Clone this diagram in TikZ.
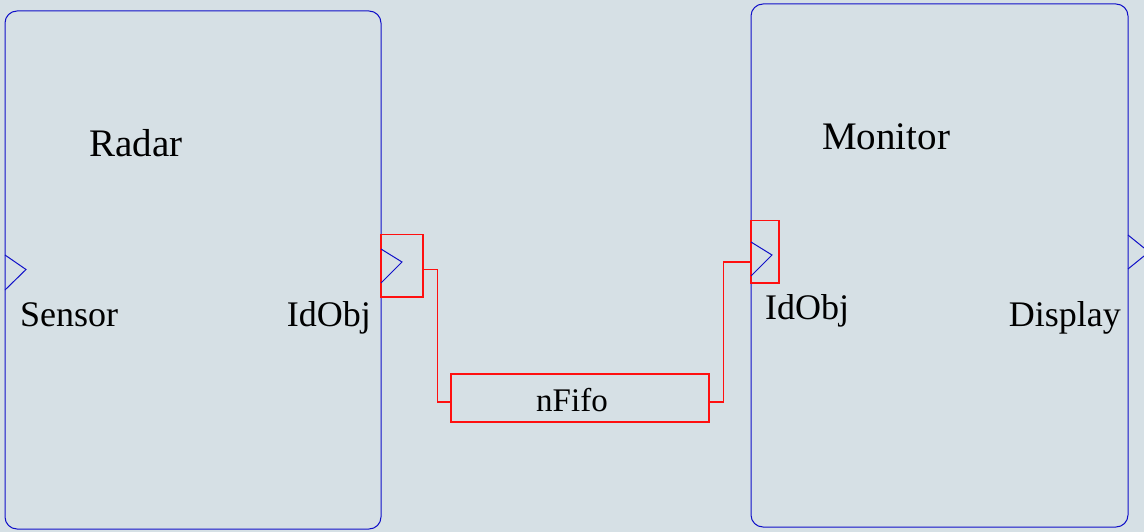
\documentclass[tikz,border=0pt]{standalone}
\usepackage{fontspec}
\setmainfont{Liberation Serif}
\usepackage{xcolor}
\usepackage{tikz}
\usetikzlibrary{calc}
\definecolor{canvas}{HTML}{D6E0E5}
\definecolor{compblue}{HTML}{1010C8}
\definecolor{chanred}{HTML}{FF1010}
\tikzset{
  compbox/.style={rectangle, rounded corners=12pt, draw=compblue, line width=1pt, inner sep=0pt},
  portbox/.style={rectangle, draw=chanred, line width=1.1pt, inner sep=0pt},
  fifobox/.style={rectangle, draw=chanred, line width=1.1pt, inner sep=0pt},
  pin/.style={draw=compblue, line width=1pt},
  wire/.style={draw=chanred, line width=1.1pt},
  title/.style={font=\fontsize{39}{44}\selectfont, inner sep=0pt},
  plbl/.style={font=\fontsize{36}{40}\selectfont, inner sep=0pt},
  flbl/.style={font=\fontsize{33}{38}\selectfont, inner sep=0pt},
}
\begin{document}
\begin{tikzpicture}[x=1pt,y=-1pt]
\fill[canvas] (0,0) rectangle (1144,532);
\useasboundingbox (0,0) rectangle (1144,532);
% components
\node[compbox, minimum width=376pt, minimum height=518pt] (radar) at (193,270) {};
\node[compbox, minimum width=377pt, minimum height=523pt] (monitor) at (939.5,265.5) {};
\node[title, anchor=base west] (radarname) at (89,157) {Radar};
\node[title, anchor=base west] (monitorname) at (822,150) {Monitor};
% ports
\node[portbox, minimum width=42pt, minimum height=62.5pt] (outport) at (402,265.75) {};
\node[portbox, minimum width=28pt, minimum height=62.5pt] (inport) at (765,251.75) {};
\draw[pin] (381,249) -- (402,262) -- (381,283);
\draw[pin] (751,242) -- (772,255) -- (751,276);
\draw[pin] (5,255) -- (26,269.5) -- (5,290);
\draw[pin] (1128,235) -- (1149,252) -- (1128,269);
\node[plbl, anchor=base west] (sensorlbl) at (20,326) {Sensor};
\node[plbl, anchor=base east] (outlbl) at (371,326) {IdObj};
\node[plbl, anchor=base west] (inlbl) at (765,319) {IdObj};
\node[plbl, anchor=base east] (displbl) at (1121,326) {Display};
% channel
\node[fifobox, minimum width=258pt, minimum height=48pt] (fifo) at (580,398) {};
\node[flbl] (fifoname) at (572,400) {nFifo};
\draw[wire] ([yshift=-4pt]outport.east) -- ++(14,0) |- ([yshift=-4pt]fifo.west);
\draw[wire] ([yshift=-4pt]fifo.east) -- ++(14,0) |- ([yshift=-10.25pt]inport.west);
\end{tikzpicture}
\end{document}
